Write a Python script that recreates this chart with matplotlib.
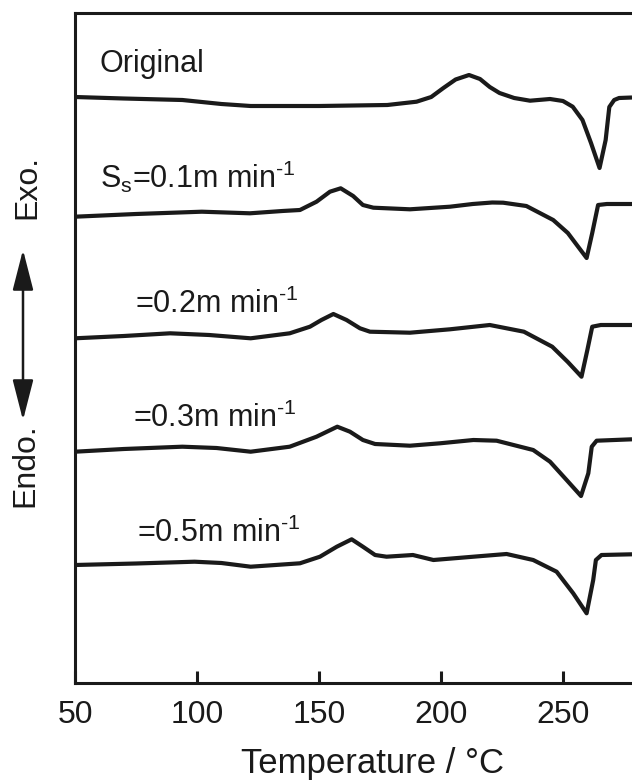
import matplotlib
matplotlib.use('Agg')
import matplotlib.pyplot as plt
from matplotlib.patches import FancyArrowPatch

plt.rcParams['font.family'] = ['Liberation Sans', 'DejaVu Sans']
plt.rcParams['mathtext.fontset'] = 'custom'
plt.rcParams['mathtext.rm'] = 'Liberation Sans'
plt.rcParams['mathtext.it'] = 'Liberation Sans'

# DSC curves (temperature in degC, signal in arbitrary units, exo up)
t_orig = [50, 70, 94, 110, 122, 150, 178, 190, 196, 201, 206, 211.5, 216, 220, 224, 230,
          236.5, 244.7, 250, 254, 258, 261.5, 265, 267.5, 269, 271, 273, 278.3]
s_orig = [0, -1.5, -3, -7, -9, -9, -8, -4.7, 0, 9, 17.5, 22, 18, 10, 4, -1,
          -3.7, -2, -4, -9.7, -23, -46, -71, -43, -10, -3, -1, -0.5]

t_01 = [50, 75, 102, 118, 121.7, 135, 142.2, 149, 154.5, 158.9, 164, 168, 172.3, 187.3,
        203.7, 213, 221, 225.5, 235, 246, 252, 256, 259.7, 262, 264.4, 268, 278.3]
s_01 = [0, 2.7, 5, 3.7, 3.4, 5.7, 6.7, 15, 25, 28.4, 20.7, 11.7, 9, 7.4,
        10, 12.7, 14.2, 14, 10.7, -3.3, -16.3, -29.3, -41.3, -16.3, 11.7, 12.7, 12.7]

t_02 = [50, 70, 89, 105, 122, 138, 146.3, 151, 155.9, 161.3, 166.8, 170.9, 187.3, 203.7,
        220, 234, 245.6, 252, 257.6, 260, 262, 265.5, 278.3]
s_02 = [0, 2.3, 5, 3.3, 0, 5, 11.6, 18.3, 24.3, 18.3, 10, 6.6, 5.6, 9,
        13.3, 6.6, -8.4, -23.7, -38.4, -11.7, 11.6, 13.3, 13.3]

t_03 = [50, 70, 94, 108, 122, 138, 149, 157.5, 162.7, 168, 173, 187.3, 199.6, 213.3,
        222.8, 237.8, 244.7, 251.5, 257.4, 260.4, 261.8, 263.8, 278.3]
s_03 = [0, 2.7, 5, 3.7, 0, 5, 15, 25, 20, 11.7, 7.7, 6, 8.4, 11.7,
        11, 1.7, -10, -28.3, -44.3, -21.6, 5, 11, 12.4]

t_05 = [50, 75, 99, 110, 122, 142.2, 150.4, 157.3, 163.4, 168, 173, 177.7, 188.5, 196.9,
        213.3, 226.9, 237.8, 247.4, 254.2, 259.7, 262.4, 263.5, 265.8, 278.3]
s_05 = [0, 1.5, 3.3, 2, -1.7, 1.7, 8.3, 18.3, 25.7, 18.3, 10, 8.3, 10, 5,
        8.3, 11, 5, -6.7, -28.3, -48.3, -15, 5, 10, 10.7]

curves = [(t_orig, s_orig), (t_01, s_01), (t_02, s_02), (t_03, s_03), (t_05, s_05)]
offsets = [586, 466.3, 344.7, 231.3, 118]
sup = r'$^{\text{-1}}$'
labels = ['Original', r'S$_{\rm s}$=0.1m min' + sup, '=0.2m min' + sup,
          '=0.3m min' + sup, '=0.5m min' + sup]
label_pos = [(60.2, 611), (60.2, 495), (74.6, 370), (73.8, 256), (75.4, 141)]

fig = plt.figure(figsize=(6.32, 7.83), dpi=100)
ax = fig.add_axes([75 / 632, 100 / 783, 557 / 632, 670 / 783])

for (t, s), off in zip(curves, offsets):
    ax.plot(t, [v + off for v in s], color='#1a1a1a', linewidth=3.0,
            solid_joinstyle='round', solid_capstyle='butt')

for lab, (x, y) in zip(labels, label_pos):
    ax.text(x, y, lab, fontsize=22, color='#1a1a1a', va='baseline', ha='left')

ax.set_xlim(50, 278.3)
ax.set_ylim(0, 670)
ax.set_xticks([50, 100, 150, 200, 250])
ax.set_yticks([])
ax.tick_params(axis='x', direction='in', length=9, width=2.2, pad=12,
               labelsize=23, colors='#1a1a1a')
for side in ['left', 'top', 'bottom']:
    ax.spines[side].set_linewidth(2.2)
    ax.spines[side].set_color('#1a1a1a')
ax.spines['right'].set_visible(False)
ax.set_xlabel('Temperature / \u00b0C', fontsize=25, labelpad=14, color='#1a1a1a')
ax.xaxis.set_label_coords(0.535, -0.095)

# Exo / Endo arrow on the left
arrow = FancyArrowPatch((23 / 632, 1 - 423 / 783), (23 / 632, 1 - 247 / 783),
                        transform=fig.transFigure,
                        arrowstyle='<|-|>,head_length=1.25,head_width=0.32',
                        mutation_scale=20, color='#1a1a1a', linewidth=1.8)
fig.add_artist(arrow)
fig.text(27 / 632, 1 - 187 / 783, 'Exo.', rotation=90, fontsize=23,
         ha='center', va='center', color='#1a1a1a')
fig.text(25 / 632, 1 - 465 / 783, 'Endo.', rotation=90, fontsize=23,
         ha='center', va='center', color='#1a1a1a')

fig.savefig('out.png', dpi=100)
